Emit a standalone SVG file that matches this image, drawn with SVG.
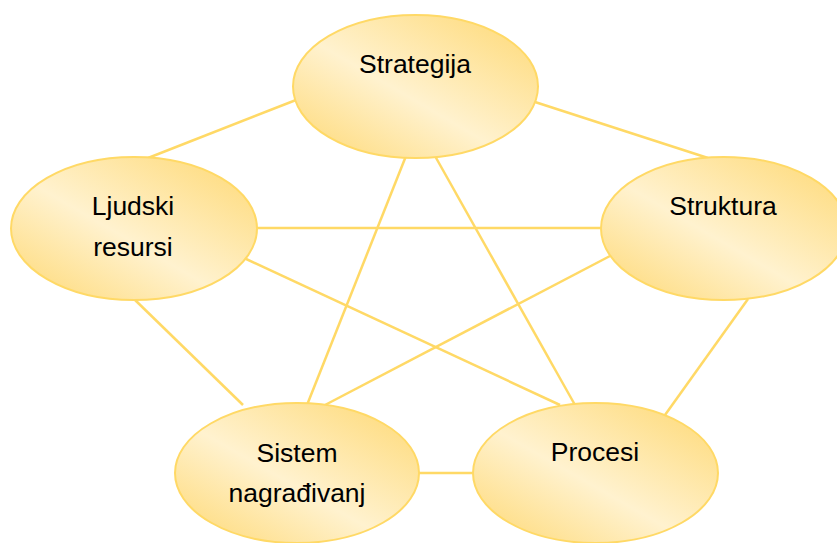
<svg xmlns="http://www.w3.org/2000/svg" width="837" height="543" viewBox="0 0 837 543">
<style>
.c{stroke:#ffd966;stroke-width:2.5;fill:none}
.n{fill:url(#g);stroke:#ffd966;stroke-width:2}
.t{font-family:"Liberation Sans",Arial,sans-serif;font-size:26.5px;fill:#000;text-anchor:middle}
</style>
<defs>
<linearGradient id="g" x1="1" y1="0" x2="0" y2="1">
<stop offset="0" stop-color="#fed872"/>
<stop offset="0.55" stop-color="#fff2cf"/>
<stop offset="1" stop-color="#fed872"/>
</linearGradient>
</defs>
<rect width="837" height="543" fill="#fff"/>
<g id="connectors">
<line class="c" x1="296" y1="100" x2="148" y2="158"/>
<line class="c" x1="535" y1="102" x2="708" y2="158"/>
<line class="c" x1="255" y1="228" x2="603" y2="228"/>
<line class="c" x1="244" y1="258" x2="560" y2="405"/>
<line class="c" x1="133" y1="298" x2="243" y2="405"/>
<line class="c" x1="406" y1="156" x2="307" y2="405"/>
<line class="c" x1="435" y1="156" x2="575" y2="405"/>
<line class="c" x1="610" y1="256" x2="325" y2="405"/>
<line class="c" x1="748" y1="299" x2="665" y2="415"/>
<line class="c" x1="417" y1="473" x2="475" y2="473"/>
</g>
<g id="strategija">
<ellipse class="n" cx="415.5" cy="86.5" rx="122.5" ry="71.5"/>
<text class="t" x="415" y="73">Strategija</text>
</g>
<g id="ljudski-resursi">
<ellipse class="n" cx="134" cy="228.5" rx="123" ry="71.5"/>
<text class="t" x="133" y="215">Ljudski</text>
<text class="t" x="133" y="256">resursi</text>
</g>
<g id="struktura">
<ellipse class="n" cx="724" cy="228.5" rx="123" ry="71.5"/>
<text class="t" x="723" y="215">Struktura</text>
</g>
<g id="sistem-nagradjivanja">
<ellipse class="n" cx="297" cy="473" rx="122" ry="70"/>
<text class="t" x="297" y="462">Sistem</text>
<text class="t" x="297" y="502">nagrađivanj</text>
</g>
<g id="procesi">
<ellipse class="n" cx="595.5" cy="473" rx="122.5" ry="70"/>
<text class="t" x="595" y="461">Procesi</text>
</g>
</svg>
